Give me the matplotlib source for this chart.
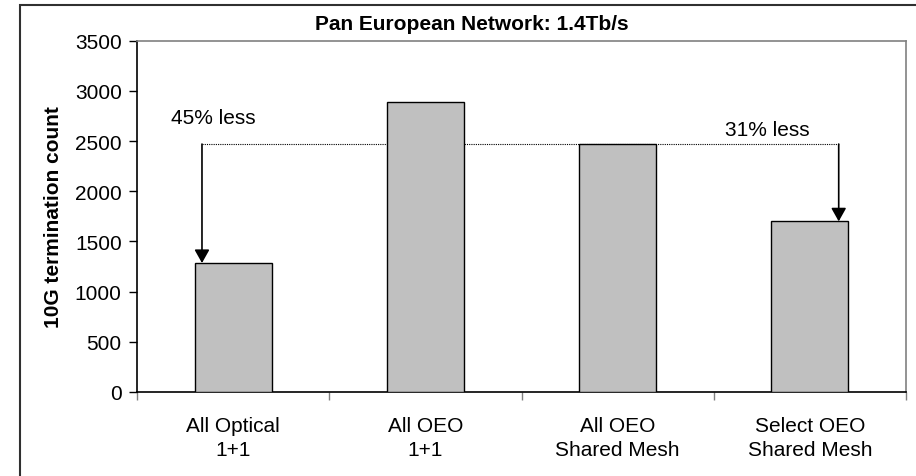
import matplotlib
matplotlib.use("Agg")
import matplotlib.pyplot as plt
from matplotlib.patches import Rectangle

# data
categories = ["All Optical\n1+1", "All OEO\n1+1", "All OEO\nShared Mesh",
              "Select OEO\nShared Mesh"]
counts = [1285, 2890, 2470, 1700]
title = "Pan European Network: 1.4Tb/s"
ylabel = "10G termination count"
yticks = [0, 500, 1000, 1500, 2000, 2500, 3000, 3500]
notes = ["45% less", "31% less"]

plt.rcParams['font.family'] = ['Liberation Sans', 'DejaVu Sans']
FS = 15

fig = plt.figure(figsize=(9.16, 4.77), dpi=100)
ax = fig.add_axes([137/916, 1 - 393/477, (906 - 137)/916, (393 - 41.7)/477])

x = list(range(len(categories)))
ax.bar(x, counts, width=0.4, color="#c0c0c0", edgecolor="black",
       linewidth=1.0, zorder=3)

ax.set_xlim(-0.5, len(categories) - 0.5)
ax.set_ylim(0, 3500)
ax.set_yticks(yticks)
ax.set_yticklabels([str(t) for t in yticks], fontsize=FS)
ax.set_xticks(x)
ax.set_xticklabels(categories, fontsize=FS, linespacing=1.35)
ax.set_xticks([i - 0.5 for i in range(len(categories) + 1)], minor=True)
ax.tick_params(axis='x', which='major', length=0, pad=17)
ax.tick_params(axis='x', which='minor', length=6, width=1, color="#808080")
ax.tick_params(axis='y', length=6, width=1, pad=5)

for side in ("top", "right"):
    ax.spines[side].set_color("#808080")
    ax.spines[side].set_linewidth(1.2)
for side in ("left", "bottom"):
    ax.spines[side].set_color("black")
    ax.spines[side].set_linewidth(1.2)

ax.set_ylabel(ylabel, fontsize=FS, fontweight="bold")
ax.yaxis.set_label_coords(-(137 - 63)/769, 0.5)

# dotted reference line at the shared mesh level, with the two arrows
ref = counts[2]
x_left, x_right = -0.162, 3.15
ax.plot([x_left, x_right], [ref, ref], color="black", linestyle=(0, (1, 1)),
        linewidth=0.8, zorder=2)
for xa, top in [(x_left, counts[0]), (x_right, counts[3])]:
    ax.annotate("", xy=(xa, top), xytext=(xa, ref),
                arrowprops=dict(arrowstyle="-|>,head_length=0.8,head_width=0.45",
                                color="black", lw=1.2, shrinkA=0, shrinkB=0),
                zorder=4)

ax.text(-0.323, 2730, notes[0], fontsize=FS, ha="left", va="center")
ax.text(2.78, 2620, notes[1], fontsize=FS, ha="center", va="center")

fig.text(471.5/916, 1 - 24.5/477, title, fontsize=FS, fontweight="bold",
         ha="center", va="center")

# outer chart border, running off the right and bottom edges
fig.patches.append(Rectangle((20/916, -0.1), 1.2, 1 - 6/477 + 0.1,
                             transform=fig.transFigure, fill=False,
                             edgecolor="#303030", linewidth=1.5))

fig.savefig("out.png", dpi=100)
